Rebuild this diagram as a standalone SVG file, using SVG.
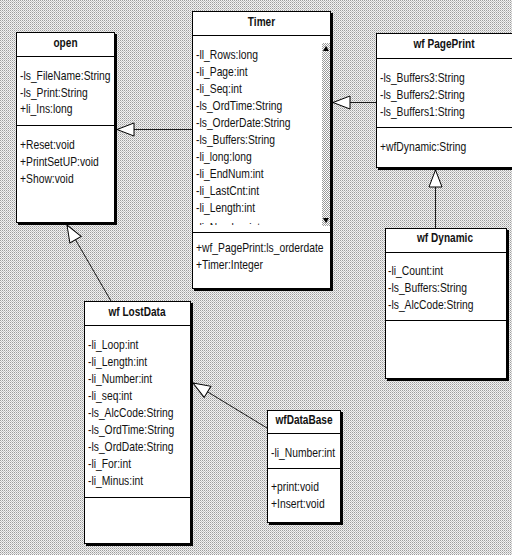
<svg xmlns="http://www.w3.org/2000/svg" width="512" height="555" viewBox="0 0 512 555">
  <style>
    .shadow { fill: #000; }
    .box { fill: #fff; stroke: #000; stroke-width: 1; }
    .rule { stroke: #000; stroke-width: 1; fill: none; }
    .link { stroke: #1a1a1a; stroke-width: 1; fill: none; marker-end: url(#inherit); }
    text { font-family: "Liberation Sans", Arial, sans-serif; font-size: 12px; fill: #111; }
    .title { font-weight: bold; text-anchor: middle; }
  </style>
  <defs>
    <!-- dithered desktop background -->
    <pattern id="dither" width="2" height="2" patternUnits="userSpaceOnUse">
      <rect width="2" height="2" fill="#f2f2f2"/>
      <rect width="1" height="1" fill="#9c9c9c"/>
      <rect x="1" y="1" width="1" height="1" fill="#c4c4c4"/>
    </pattern>
    <!-- scrollbar track -->
    <pattern id="track" width="2" height="2" patternUnits="userSpaceOnUse">
      <rect width="2" height="2" fill="#fff"/>
      <rect width="1" height="1" fill="#9a9a9a"/>
      <rect x="1" y="1" width="1" height="1" fill="#9a9a9a"/>
    </pattern>
    <!-- hollow generalization arrowhead -->
    <marker id="inherit" markerUnits="userSpaceOnUse" markerWidth="19" markerHeight="15" viewBox="-1 -1 19 15" refX="17" refY="6.5" orient="auto" overflow="visible">
      <path d="M0,0 L17,6.5 L0,13 Z" fill="#fff" stroke="#000" stroke-width="1"/>
    </marker>
    <clipPath id="timerList">
      <rect x="193" y="36" width="128" height="189"/>
    </clipPath>
  </defs>

  <rect width="512" height="555" fill="url(#dither)"/>

  <!-- generalization connectors -->
  <g id="connectors">
    <path class="link" d="M192,129.5 L117,129.5"/>
    <path class="link" d="M376,102.5 L333,102.5"/>
    <path class="link" d="M435.5,228 L435.5,170"/>
    <path class="link" d="M111,301 L67,225"/>
    <path class="link" d="M267,428 L193,383"/>
  </g>

  <!-- class: open -->
  <g id="open">
    <rect class="shadow" x="18" y="34" width="99" height="191"/>
    <rect class="box" x="16.5" y="32.5" width="98" height="190"/>
    <line class="rule" x1="16.5" y1="56.5" x2="114.5" y2="56.5"/>
    <line class="rule" x1="16.5" y1="125.5" x2="114.5" y2="125.5"/>
    <text class="title" transform="translate(65.5 47) scale(0.84 1)">open</text>
    <g transform="translate(20 0) scale(0.86 1)">
      <text y="80">-ls_FileName:String</text>
      <text y="97">-ls_Print:String</text>
      <text y="113">+li_Ins:long</text>
      <text y="149">+Reset:void</text>
      <text y="166">+PrintSetUP:void</text>
      <text y="183">+Show:void</text>
    </g>
  </g>

  <!-- class: Timer -->
  <g id="timer">
    <rect class="shadow" x="194" y="13" width="139" height="278"/>
    <rect class="box" x="192.5" y="11.5" width="138" height="277"/>
    <line class="rule" x1="192.5" y1="35.5" x2="330.5" y2="35.5"/>
    <line class="rule" x1="192.5" y1="232.5" x2="330.5" y2="232.5"/>
    <text class="title" transform="translate(261.5 26) scale(0.84 1)">Timer</text>
    <g clip-path="url(#timerList)">
      <g transform="translate(196 0) scale(0.86 1)">
        <text y="59">-ll_Rows:long</text>
        <text y="76">-li_Page:int</text>
        <text y="93">-li_Seq:int</text>
        <text y="110">-ls_OrdTime:String</text>
        <text y="127">-ls_OrderDate:String</text>
        <text y="144">-ls_Buffers:String</text>
        <text y="161">-li_long:long</text>
        <text y="178">-li_EndNum:int</text>
        <text y="195">-li_LastCnt:int</text>
        <text y="212">-li_Length:int</text>
        <text y="232">-li_Number:int</text>
      </g>
    </g>
    <!-- attribute list scrollbar -->
    <rect x="322" y="43" width="8" height="183" fill="url(#track)"/>
    <path d="M323,51 L326,46 L329,51 Z" fill="#000"/>
    <path d="M323,218 L326,223 L329,218 Z" fill="#000"/>
    <g transform="translate(196 0) scale(0.86 1)">
      <text y="252">+wf_PagePrint:ls_orderdate</text>
      <text y="269">+Timer:Integer</text>
    </g>
  </g>

  <!-- class: wf PagePrint -->
  <g id="wf-pageprint">
    <rect class="shadow" x="378" y="35" width="144" height="135"/>
    <rect class="box" x="376.5" y="33.5" width="144" height="134"/>
    <line class="rule" x1="376.5" y1="58.5" x2="520" y2="58.5"/>
    <line class="rule" x1="376.5" y1="127.5" x2="520" y2="127.5"/>
    <text class="title" transform="translate(444 48) scale(0.84 1)">wf PagePrint</text>
    <g transform="translate(380 0) scale(0.86 1)">
      <text y="82">-ls_Buffers3:String</text>
      <text y="99">-ls_Buffers2:String</text>
      <text y="116">-ls_Buffers1:String</text>
      <text y="151">+wfDynamic:String</text>
    </g>
  </g>

  <!-- class: wf Dynamic -->
  <g id="wf-dynamic">
    <rect class="shadow" x="387" y="230" width="122" height="151"/>
    <rect class="box" x="385.5" y="228.5" width="121" height="150"/>
    <line class="rule" x1="385.5" y1="252.5" x2="506.5" y2="252.5"/>
    <line class="rule" x1="385.5" y1="320.5" x2="506.5" y2="320.5"/>
    <text class="title" transform="translate(445 242) scale(0.84 1)">wf Dynamic</text>
    <g transform="translate(388 0) scale(0.86 1)">
      <text y="275">-li_Count:int</text>
      <text y="292">-ls_Buffers:String</text>
      <text y="309">-ls_AlcCode:String</text>
    </g>
  </g>

  <!-- class: wf LostData -->
  <g id="wf-lostdata">
    <rect class="shadow" x="86" y="303" width="107" height="243"/>
    <rect class="box" x="84.5" y="301.5" width="106" height="242"/>
    <line class="rule" x1="84.5" y1="325.5" x2="190.5" y2="325.5"/>
    <line class="rule" x1="84.5" y1="497.5" x2="190.5" y2="497.5"/>
    <text class="title" transform="translate(137 316) scale(0.84 1)">wf LostData</text>
    <g transform="translate(88 0) scale(0.86 1)">
      <text y="349">-li_Loop:int</text>
      <text y="366">-li_Length:int</text>
      <text y="383">-li_Number:int</text>
      <text y="400">-li_seq:int</text>
      <text y="417">-ls_AlcCode:String</text>
      <text y="434">-ls_OrdTime:String</text>
      <text y="451">-ls_OrdDate:String</text>
      <text y="468">-li_For:int</text>
      <text y="485">-li_Minus:int</text>
    </g>
  </g>

  <!-- class: wfDataBase -->
  <g id="wf-database">
    <rect class="shadow" x="269" y="412" width="74" height="113"/>
    <rect class="box" x="267.5" y="410.5" width="73" height="112"/>
    <line class="rule" x1="267.5" y1="433.5" x2="340.5" y2="433.5"/>
    <line class="rule" x1="267.5" y1="468.5" x2="340.5" y2="468.5"/>
    <text class="title" transform="translate(304 424) scale(0.84 1)">wfDataBase</text>
    <g transform="translate(271 0) scale(0.86 1)">
      <text y="457">-li_Number:int</text>
      <text y="491">+print:void</text>
      <text y="508">+Insert:void</text>
    </g>
  </g>
</svg>
